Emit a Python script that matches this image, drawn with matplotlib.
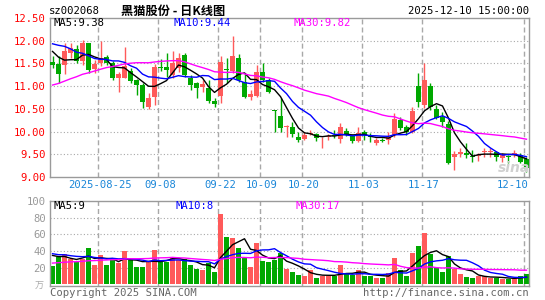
import matplotlib
matplotlib.use('Agg')
import matplotlib.pyplot as plt
import matplotlib.transforms as mtransforms
import numpy as np

# ---------------- data ----------------
opens = [11.53, 11.49, 11.47, 11.72, 11.82, 11.56, 11.95, 11.37, 11.50, 11.64,
         11.50, 11.19, 11.19, 11.33, 11.13, 11.02, 10.55, 10.77, 11.43, 11.43,
         11.24, 11.40, 11.68, 11.19, 11.06, 10.99, 10.96, 10.67, 10.78, 11.37,
         11.33, 11.61, 11.10, 10.77, 10.78, 11.32, 11.13, 10.47, 10.34, 10.10,
         10.10, 9.88, 9.84, 9.95, 9.95, 9.87, 9.89, 9.92, 9.83, 10.02,
         9.92, 9.79, 9.99, 9.89, 9.75, 9.81, 9.82, 9.92, 10.25, 10.09,
         9.99, 11.00, 10.58, 11.00, 10.49, 10.33, 10.16, 9.45, 9.50, 9.53,
         9.45, 9.47, 9.54, 9.55, 9.54, 9.42, 9.46, 9.51, 9.48, 9.39]
highs = [11.67, 11.66, 11.96, 11.94, 11.90, 12.02, 11.96, 11.58, 12.00, 11.68,
         11.55, 11.32, 11.87, 11.39, 11.16, 11.06, 10.85, 11.49, 11.60, 11.72,
         11.78, 11.74, 11.73, 11.25, 11.10, 11.14, 11.13, 10.73, 11.66, 11.61,
         12.11, 11.70, 11.28, 10.91, 11.46, 11.50, 11.17, 10.48, 10.74, 10.15,
         10.22, 9.99, 10.00, 10.03, 9.96, 9.89, 9.94, 10.03, 10.18, 10.07,
         9.94, 10.11, 10.03, 9.96, 9.85, 9.86, 10.00, 10.40, 10.33, 10.14,
         10.55, 11.28, 11.50, 11.06, 10.58, 10.44, 10.23, 9.57, 9.63, 9.74,
         9.59, 9.52, 9.63, 9.64, 9.57, 9.52, 9.49, 9.59, 9.53, 9.45]
lows = [11.39, 11.06, 11.26, 11.61, 11.52, 11.47, 11.28, 11.30, 11.45, 11.46,
        11.13, 10.87, 11.17, 11.07, 10.80, 10.51, 10.50, 10.58, 11.33, 11.21,
        11.18, 11.32, 11.20, 10.92, 10.73, 10.88, 10.62, 10.55, 10.62, 11.06,
        11.28, 11.10, 10.75, 10.70, 10.76, 11.10, 10.86, 10.00, 10.00, 9.89,
        9.89, 9.77, 9.81, 9.93, 9.80, 9.64, 9.82, 9.86, 9.74, 9.91,
        9.75, 9.77, 9.81, 9.77, 9.70, 9.76, 9.72, 9.88, 10.03, 9.92,
        9.96, 10.55, 10.51, 10.47, 10.27, 10.11, 9.29, 9.15, 9.45, 9.42,
        9.33, 9.36, 9.45, 9.45, 9.36, 9.34, 9.31, 9.45, 9.30, 9.11]
closes = [11.47, 11.27, 11.77, 11.85, 11.56, 11.96, 11.36, 11.49, 11.63, 11.50,
          11.17, 11.26, 11.45, 11.11, 11.02, 10.66, 10.75, 11.43, 11.41, 11.36,
          11.50, 11.62, 11.24, 11.03, 10.96, 11.04, 10.68, 10.60, 11.54, 11.35,
          11.67, 11.13, 10.77, 10.83, 11.32, 11.13, 10.88, 10.45, 10.07, 10.11,
          9.94, 9.82, 9.92, 9.97, 9.85, 9.88, 9.91, 9.90, 10.09, 9.94,
          9.79, 9.96, 9.92, 9.87, 9.81, 9.80, 9.87, 10.27, 10.08, 9.98,
          10.45, 10.64, 11.13, 10.55, 10.30, 10.20, 9.31, 9.50, 9.56, 9.48,
          9.44, 9.48, 9.56, 9.56, 9.45, 9.48, 9.44, 9.53, 9.34, 9.20]
volumes = [22, 33, 37, 31, 27, 31, 44, 23, 35, 23,
           30, 26, 40, 29, 21, 21, 27, 41, 27, 27,
           33, 29, 31, 23, 19, 17, 26, 15, 84, 57,
           56, 44, 33, 21, 50, 28, 27, 29, 38, 18,
           15, 11, 10, 17, 8, 10, 10, 10, 23, 13,
           11, 17, 10, 10, 8, 8, 14, 32, 17, 10,
           38, 46, 62, 36, 20, 15, 34, 18, 12, 9,
           8, 10, 10, 8, 8, 6, 7, 8, 10, 13]
# sessions before the visible window (only feed the moving averages)
prior_closes = [10.20, 10.25, 10.30, 10.20, 10.35, 10.40, 10.30, 10.45, 10.40, 10.50,
                10.45, 10.55, 10.60, 10.70, 10.65, 10.80, 10.90, 11.00, 11.10, 11.30,
                11.60, 12.00, 12.40, 12.30, 12.20, 11.90, 12.10, 11.80, 11.55]
prior_volumes = [18, 22, 16, 20, 19, 24, 17, 21, 15, 18,
                 23, 20, 19, 22, 18, 21, 24, 20, 22, 21,
                 45, 38, 42, 35, 35, 40, 36, 42, 34]

# values printed in the legends of the picture
price_ma_values = ['9.38', '9.44', '9.82']
volume_ma_values = ['9', '8', '17']

date_idx = [8, 18, 28, 35, 42, 52, 62, 79]
date_labels = ['2025-08-25', '09-08', '09-22', '10-09', '10-20', '11-03', '11-17', '12-10']
price_ticks = [12.5, 12.0, 11.5, 11.0, 10.5, 10.0, 9.5, 9.0]
vol_ticks = [100, 80, 60, 40, 20]

# ---------------- helpers ----------------
def moving_avg(series, prior, n):
    full = np.array(list(prior) + list(series), dtype=float)
    k = len(prior)
    return np.array([full[k + i - n + 1:k + i + 1].mean() for i in range(len(series))])

RED = '#ff5a5a'
GREEN = '#00a800'
GRID = '#a8a8a8'
FRAME = '#9a9a9a'
MONO = 'DejaVu Sans Mono'
CJK = ['Noto Sans CJK SC', 'DejaVu Sans']

W, H = 545, 300
fig = plt.figure(figsize=(W / 100, H / 100), dpi=100)

def fx(px):
    return px / W

def fy(py):
    return 1 - py / H

ax1 = fig.add_axes([fx(50), fy(177), fx(479), 159 / H])
ax2 = fig.add_axes([fx(50), fy(286), fx(479), 85 / H])

n = len(closes)
x = np.arange(n)
o = np.array(opens); c = np.array(closes)
hi = np.array(highs); lo = np.array(lows)
up = c >= o
cols = [RED if u else GREEN for u in up]

for ax in (ax1, ax2):
    ax.set_xlim(-0.42, 79.42)
    for s in ax.spines.values():
        s.set_color(FRAME)
        s.set_linewidth(1.0)
    ax.set_xticks([])
    ax.tick_params(axis='y', length=0, pad=3)
    for d in date_idx:
        ax.axvline(d - 0.4, color=GRID, lw=1.0, linestyle=(0, (3.6, 2.2)), zorder=0)

# ---- main price panel ----
ax1.set_ylim(9.0, 12.5)
for t in price_ticks[1:-1]:
    ax1.axhline(t, color=GRID, lw=0.8, linestyle=(0, (1, 2)), zorder=0)
ax1.vlines(x, lo, hi, colors=cols, lw=1.0, zorder=2)
body_bottom = np.minimum(o, c)
body_h = np.maximum(np.abs(c - o), 0.022)
ax1.bar(x, body_h, bottom=body_bottom, width=0.8, color=cols, linewidth=0, zorder=3)
ax1.plot(x, moving_avg(closes, prior_closes, 5), color='black', lw=1.0, zorder=4)
ax1.plot(x, moving_avg(closes, prior_closes, 10), color='#0000ff', lw=1.0, zorder=4)
ax1.plot(x, moving_avg(closes, prior_closes, 30), color='#ff00ff', lw=1.0, zorder=4)
ax1.set_yticks(price_ticks)
ax1.set_yticklabels([f'{v:.2f}' for v in price_ticks], color='#ff0000',
                    fontfamily=MONO, fontsize=7.6)

fig.text(fx(53), fy(23), f'MA5:{price_ma_values[0]}', color='black', fontfamily=MONO, fontsize=7.6, va='center')
fig.text(fx(173), fy(23), f'MA10:{price_ma_values[1]}', color='#0000ff', fontfamily=MONO, fontsize=7.6, va='center')
fig.text(fx(293), fy(23), f'MA30:{price_ma_values[2]}', color='#ff00ff', fontfamily=MONO, fontsize=7.6, va='center')

trans = mtransforms.blended_transform_factory(ax1.transData, ax1.transAxes)
for d, lab in zip(date_idx, date_labels):
    if d == date_idx[-1]:
        ax1.text(79.42, -0.052, lab, transform=trans, ha='right', va='center',
                 color='#1a86d8', fontfamily=MONO, fontsize=7.6)
    else:
        ax1.text(d - 0.1, -0.052, lab, transform=trans, ha='center', va='center',
                 color='#1a86d8', fontfamily=MONO, fontsize=7.6)

# sina watermark
fig.text(fx(514), fy(168), 'sina', color='#d0d0d0', fontsize=10, fontweight='bold',
         style='italic', ha='center', va='center', zorder=1)

# ---- volume panel ----
v = np.array(volumes, dtype=float)
ax2.set_ylim(-1.8, 100)
for t in vol_ticks[1:]:
    ax2.axhline(t, color=GRID, lw=0.8, linestyle=(0, (1, 2)), zorder=0)
ax2.bar(x, v, width=0.8, color=cols, linewidth=0, zorder=2)
vm5 = moving_avg(volumes, prior_volumes, 5)
vm10 = moving_avg(volumes, prior_volumes, 10)
vm30 = moving_avg(volumes, prior_volumes, 30)
ax2.plot(x, vm5, color='black', lw=1.0, zorder=4)
ax2.plot(x, vm10, color='#0000ff', lw=1.0, zorder=4)
ax2.plot(x, vm30, color='#ff00ff', lw=1.0, zorder=4)
ax2.set_yticks(vol_ticks)
ax2.set_yticklabels([str(t) for t in vol_ticks], color='#999999', fontfamily=MONO, fontsize=7.6)

fig.text(fx(53), fy(206), f'MA5:{volume_ma_values[0]}', color='black', fontfamily=MONO, fontsize=7.6, va='center')
fig.text(fx(175), fy(206), f'MA10:{volume_ma_values[1]}', color='#0000ff', fontfamily=MONO, fontsize=7.6, va='center')
fig.text(fx(295), fy(206), f'MA30:{volume_ma_values[2]}', color='#ff00ff', fontfamily=MONO, fontsize=7.6, va='center')
fig.text(fx(44), fy(286), '万', color='#aaaaaa', fontsize=6.5, ha='right', va='center', family=CJK)

# ---- header / footer ----
fig.text(fx(49), fy(11), 'sz002068', color='black', fontfamily=MONO, fontsize=7.6, va='center')
fig.text(fx(121), fy(11), '黑猫股份 - 日K线图', color='black', fontsize=8.8, va='center',
         family=CJK, fontweight='bold')
fig.text(fx(529), fy(11), '2025-12-10 15:00:00', color='black', fontfamily=MONO, fontsize=7.6,
         va='center', ha='right')
fig.text(fx(50), fy(293), 'Copyright 2025 SINA.COM', color='#666666', fontfamily=MONO,
         fontsize=7.6, va='center')
fig.text(fx(529), fy(293), 'http://finance.sina.com.cn', color='#666666', fontfamily=MONO,
         fontsize=7.6, va='center', ha='right')

fig.savefig('out.png', dpi=100, facecolor='white')
